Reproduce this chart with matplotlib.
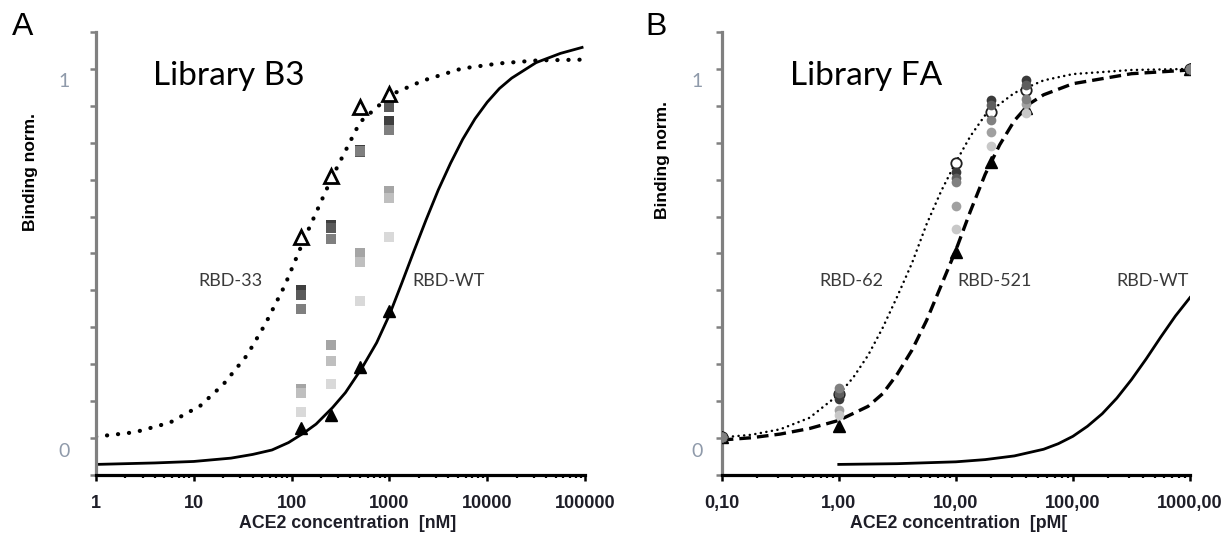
import numpy as np
import matplotlib
matplotlib.use("Agg")
import matplotlib.pyplot as plt
from matplotlib.ticker import FixedLocator, LogLocator, NullFormatter

plt.rcParams['font.family'] = ['Lato', 'DejaVu Sans']
BOLD_FONT = ['Liberation Sans', 'DejaVu Sans']

###############################################################################
# panel A - Library B3 (ACE2 in nM)
###############################################################################
conc_a = [125, 250, 500, 1000]
rbd33_a = [0.576, 0.741, 0.927, 0.962]      # open triangles
rbdwt_a = [0.059, 0.095, 0.225, 0.376]      # filled triangles
# library clones, dark -> light squares
clones_a = [
    [0.432, 0.608, 0.810, 0.890],
    [0.419, 0.599, 0.805, 0.928],
    [0.381, 0.569, 0.808, 0.865],
    [0.165, 0.284, 0.533, 0.701],
    [0.155, 0.241, 0.509, 0.680],
    [0.104, 0.178, 0.404, 0.576],
]
clone_colors_a = ['#3f3f3f', '#5a5a5a', '#7f7f7f', '#a5a5a5', '#bfbfbf', '#d9d9d9']

# fitted curves
fit33_x = [1, 2.5, 5.7, 11.7, 20, 35, 54, 85, 135, 257, 500, 1050, 2190, 5500, 13500, 33000, 95000]
fit33_y = [0.036, 0.048, 0.074, 0.120, 0.177, 0.256, 0.341, 0.444, 0.571, 0.735, 0.886, 0.961,
           0.998, 1.031, 1.045, 1.053, 1.055]
fitwt_a_x = [1, 4, 10, 24, 40, 63, 93, 135, 178, 263, 355, 525, 741, 1000, 1334, 1778, 2371,
             3162, 4217, 5623, 7499, 10000, 13335, 17783, 31623, 56234, 93325]
fitwt_a_y = [-0.039, -0.035, -0.031, -0.022, -0.012, 0.000, 0.020, 0.047, 0.070, 0.115, 0.155,
             0.222, 0.290, 0.365, 0.450, 0.537, 0.622, 0.703, 0.775, 0.840, 0.895, 0.940,
             0.977, 1.005, 1.047, 1.072, 1.088]

ticks_a = [1, 10, 100, 1000, 10000, 100000]
ticklabels_a = ['1', '10', '100', '1000', '10000', '100000']

###############################################################################
# panel B - Library FA (ACE2 in pM)
###############################################################################
conc_b = [0.1, 1, 10, 20, 40, 1000]
rbd62_b = [0.034, 0.150, 0.775, 0.914, 0.973, 1.029]    # open circles
rbd521_b = [0.034, 0.065, 0.536, 0.779, 0.923, 1.029]   # filled triangles
clones_b = [
    [0.034, 0.108, 0.660, 0.860, 0.935, 1.029],
    [0.034, 0.095, 0.596, 0.822, 0.912, 1.029],
    [0.034, 0.137, 0.752, 0.946, 1.000, 1.029],
    [0.034, 0.153, 0.734, 0.932, 0.986, 1.029],
    [0.034, 0.167, 0.725, 0.892, 0.948, 1.029],
]
clone_colors_b = ['#a0a0a0', '#c8c8c8', '#3a3a3a', '#5e5e5e', '#808080']

fit62_x = [0.1, 0.178, 0.316, 0.562, 1, 1.33, 1.78, 2.37, 3.16, 4.22, 5.62, 7.5, 10, 13.3, 17.8,
           31.6, 56.2, 100, 316, 1000]
fit62_y = [0.034, 0.041, 0.056, 0.087, 0.150, 0.196, 0.256, 0.330, 0.415, 0.505, 0.610, 0.700,
           0.778, 0.848, 0.905, 0.965, 0.999, 1.016, 1.027, 1.030]
fit521_x = [0.1, 0.178, 0.316, 0.562, 1, 1.78, 2.37, 3.16, 4.22, 5.62, 7.5, 10, 13.3, 17.8, 23.7,
            31.6, 42.2, 56.2, 100, 316, 1000]
fit521_y = [0.027, 0.033, 0.043, 0.058, 0.080, 0.118, 0.152, 0.205, 0.270, 0.350, 0.445, 0.540,
            0.645, 0.745, 0.825, 0.890, 0.935, 0.960, 0.990, 1.017, 1.027]
fitwt_b_x = [1, 3.16, 10, 17.8, 31.6, 56.2, 75, 100, 133, 178, 237, 316, 422, 562, 750, 1000]
fitwt_b_y = [-0.039, -0.037, -0.032, -0.026, -0.016, 0.002, 0.017, 0.037, 0.064, 0.098, 0.140,
             0.190, 0.246, 0.305, 0.362, 0.412]

ticks_b = [0.1, 1, 10, 100, 1000]
ticklabels_b = ['0,10', '1,00', '10,00', '100,00', '1000,00']

# y range: pixel mapping of the original chart (0 and 1 labels)
Y_BOT, Y_TOP = -0.0676, 1.1297


def style_axis(ax, xlim, ticks, labels, ypad):
    ax.set_xscale('log')
    ax.set_xlim(*xlim)
    ax.set_ylim(Y_BOT, Y_TOP)
    ax.spines['top'].set_visible(False)
    ax.spines['right'].set_visible(False)
    ax.spines['left'].set_color('#808080')
    ax.spines['left'].set_linewidth(2.3)
    ax.spines['bottom'].set_color('black')
    ax.spines['bottom'].set_linewidth(2.3)

    ax.set_xticks(ticks, labels, fontfamily=BOLD_FONT, fontweight='bold', fontsize=13,
                  color='#1e1e28')
    ax.xaxis.set_minor_locator(LogLocator(base=10, subs=range(2, 10)))
    ax.xaxis.set_minor_formatter(NullFormatter())
    ax.tick_params(axis='x', which='major', length=4, width=1.8, color='black', pad=10.5)
    ax.tick_params(axis='x', which='minor', length=2.5, width=1.6, color='black')

    ax.set_yticks([0, 1], ['0', '1'])
    ax.yaxis.set_minor_locator(FixedLocator(np.linspace(Y_BOT, Y_TOP, 13)))
    ax.tick_params(axis='y', which='major', length=0, labelsize=14,
                   labelcolor='#8f9aaa', pad=ypad)
    ax.tick_params(axis='y', which='minor', length=4, width=1.8, color='#808080')


fig = plt.figure(figsize=(12.27, 5.43), dpi=100)
axA = fig.add_axes([96 / 1227, 68 / 543, 489 / 1227, 443 / 543])
axB = fig.add_axes([721.7 / 1227, 68 / 543, 468.3 / 1227, 443 / 543])

# ---------------- panel A ----------------
style_axis(axA, (1, 100000), ticks_a, ticklabels_a, 19)
axA.plot(fit33_x, fit33_y, color='black', lw=3.0, linestyle=(0, (0.05, 2.6)),
         dash_capstyle='round', zorder=2)
axA.plot(fitwt_a_x, fitwt_a_y, color='black', lw=2.0, zorder=2)
for vals, c in zip(clones_a, clone_colors_a):
    axA.plot(conc_a, vals, linestyle='none', marker='s', markersize=6.5,
             color=c, markeredgewidth=0, zorder=3)
axA.plot(conc_a, rbd33_a, linestyle='none', marker='^', markersize=10,
         markerfacecolor='white', markeredgecolor='black', markeredgewidth=2, zorder=4)
axA.plot(conc_a, rbdwt_a, linestyle='none', marker='^', markersize=8,
         color='black', zorder=4)

fig.text(229 / 1227, 1 - 76 / 543, 'Library B3', ha='center', va='center', fontsize=24)
fig.text(230 / 1227, 1 - 281 / 543, 'RBD-33', ha='center', va='center', fontsize=13,
         color='#3a3a3a')
fig.text(449 / 1227, 1 - 281 / 543, 'RBD-WT', ha='center', va='center', fontsize=13,
         color='#3a3a3a')

# ---------------- panel B ----------------
style_axis(axB, (0.1, 1000), ticks_b, ticklabels_b, 14)
axB.plot(fit62_x, fit62_y, color='black', lw=1.8, linestyle=(0, (0.05, 2.2)),
         dash_capstyle='round', zorder=2)
axB.plot(fit521_x, fit521_y, color='black', lw=2.4, linestyle=(0, (3.5, 1.8)), zorder=2)
axB.plot(fitwt_b_x, fitwt_b_y, color='black', lw=2.0, zorder=2)
axB.plot(conc_b, rbd521_b, linestyle='none', marker='^', markersize=8,
         color='black', zorder=3)
axB.plot(conc_b, rbd62_b, linestyle='none', marker='o', markersize=7.5,
         markerfacecolor='white', markeredgecolor='#202020', markeredgewidth=1.3, zorder=3)
for vals, c in zip(clones_b, clone_colors_b):
    axB.plot(conc_b, vals, linestyle='none', marker='o', markersize=7,
             color=c, markeredgewidth=0, zorder=4)

fig.text(866 / 1227, 1 - 76 / 543, 'Library FA', ha='center', va='center', fontsize=24)
for label, xp in [('RBD-62', 851), ('RBD-521', 995), ('RBD-WT', 1153)]:
    fig.text(xp / 1227, 1 - 281 / 543, label, ha='center', va='center', fontsize=13,
             color='#3a3a3a')

# panel letters and axis titles
fig.text(23 / 1227, 1 - 27 / 543, 'A', ha='center', va='center', fontsize=23,
         family='Liberation Sans')
fig.text(656 / 1227, 1 - 27 / 543, 'B', ha='center', va='center', fontsize=23,
         family='Liberation Sans')
fig.text(31 / 1227, 1 - 172 / 543, 'Binding norm.', rotation=90, ha='center', va='center',
         fontsize=12.5, fontweight='bold', family=BOLD_FONT)
fig.text(662 / 1227, 1 - 160 / 543, 'Binding norm.', rotation=90, ha='center', va='center',
         fontsize=12.5, fontweight='bold', family=BOLD_FONT)
fig.text(348 / 1227, 1 - 523 / 543, 'ACE2 concentration  [nM]', ha='center', va='center',
         fontsize=12.8, fontweight='bold', color='#1e1e28', family=BOLD_FONT)
fig.text(959 / 1227, 1 - 523 / 543, 'ACE2 concentration  [pM[', ha='center', va='center',
         fontsize=12.8, fontweight='bold', color='#1e1e28', family=BOLD_FONT)

fig.savefig('out.png', dpi=100)
